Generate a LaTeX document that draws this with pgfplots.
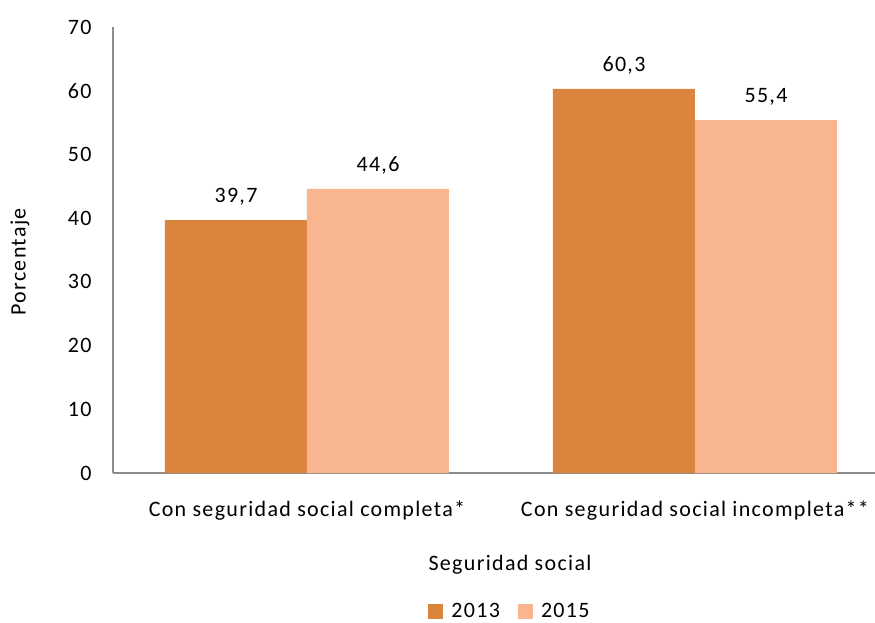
\documentclass[border=0pt]{standalone}
\usepackage{pgfplots}
\pgfplotsset{compat=1.18}
\usepackage{fontspec}
\setmainfont[LetterSpace=6]{Carlito}
\definecolor{c13}{HTML}{DB843D}
\definecolor{c15}{HTML}{F9B590}
\definecolor{axg}{HTML}{8C8C8C}
\begin{document}
\fontsize{22}{26}\selectfont
\begin{tikzpicture}[x=1pt,y=1pt]
\useasboundingbox (0,0) rectangle (875,622);
\begin{axis}[
  at={(113pt,149pt)}, anchor=south west,
  scale only axis, width=762pt, height=446pt,
  xmin=-0.5, xmax=1.464, ymin=0, ymax=70,
  ybar=0pt, bar width=142pt,
  axis x line=bottom, axis y line=left,
  axis line style={-, draw=axg, line width=1.3pt},
  major tick length=0pt,
  ytick={0,10,...,70},
  xtick={0,1},
  xticklabels={Con seguridad social completa*, Con seguridad social incompleta**},
  /pgf/number format/assume math mode=true,
  tick label style={font=\fontsize{22}{26}\selectfont},
  yticklabel style={anchor=east, xshift=-14pt},
  xticklabel style={anchor=center, yshift=-38pt},
  xlabel={Seguridad social},
  xlabel style={at={(axis description cs:0.521,-0.206)}, anchor=center, font=\fontsize{22}{26}\selectfont},
  ylabel={Porcentaje},
  ylabel style={at={(axis description cs:-0.122,0.473)}, anchor=center, rotate=0, font=\fontsize{22}{26}\selectfont},
  nodes near coords={\pgfmathprintnumber[use comma,fixed,fixed zerofill,precision=1,assume math mode=true]{\pgfplotspointmeta}},
  every node near coord/.append style={font=\fontsize{22}{26}\selectfont, text=black, yshift=7pt},
  legend style={at={(axis description cs:0.521,-0.312)}, anchor=center, draw=none, fill=none,
    legend columns=2, font=\fontsize{22}{26}\selectfont,
    /tikz/every odd column/.append style={column sep=6pt},
    /tikz/every even column/.append style={column sep=16pt}},
  legend image code/.code={\fill[#1] (0pt,-7pt) rectangle (15pt,8pt);},
]
\addplot[fill=c13, draw=none] coordinates {(0,39.7) (1,60.3)};
\addplot[fill=c15, draw=none] coordinates {(0,44.6) (1,55.4)};
\legend{2013,2015}
\end{axis}
\end{tikzpicture}
\end{document}
